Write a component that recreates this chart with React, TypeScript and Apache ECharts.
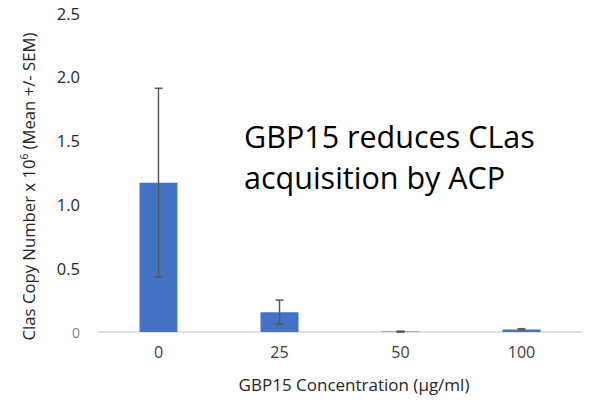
import React, { useEffect, useRef } from "react";
import * as echarts from "echarts";

const categories = ["0", "25", "50", "100"];
const means = [1.17, 0.155, 0.003, 0.02];
const sems = [0.74, 0.095, 0.004, 0.006];
const yTicks = [0, 0.5, 1.0, 1.5, 2.0, 2.5];

const FONT = "'Open Sans', sans-serif";

export default function App() {
  const ref = useRef<HTMLDivElement>(null);
  useEffect(() => {
    if (!ref.current) return;
    const chart = echarts.init(ref.current, null, { renderer: "svg" });
    const errData = categories.map((c, i) => [i, means[i] - sems[i], means[i] + sems[i]]);
    chart.setOption({
      animation: false,
      backgroundColor: "#ffffff",
      grid: { left: 98, right: 7, top: 13, bottom: 69 },
      xAxis: {
        type: "category",
        data: categories,
        axisLine: { show: true, lineStyle: { color: "#d9d9d9", width: 1.5 } },
        axisTick: { show: false },
        axisLabel: { fontFamily: FONT, fontSize: 16, color: "#404040", margin: 12 },
        name: "GBP15 Concentration (\u03bcg/ml)",
        nameLocation: "middle",
        nameGap: 44,
        nameTextStyle: { fontFamily: FONT, fontSize: 17, color: "#262626", padding: [0, 0, 0, 28] },
      },
      yAxis: {
        type: "value",
        min: yTicks[0],
        max: yTicks[yTicks.length - 1],
        interval: 0.5,
        splitLine: { show: false },
        axisLine: { show: false },
        axisTick: { show: false },
        axisLabel: {
          margin: 18,
          formatter: (v: number) => (v === 0 ? "{z|0}" : "{n|" + v.toFixed(1) + "}"),
          rich: {
            z: { fontFamily: FONT, fontSize: 14, color: "#7f7f7f" },
            n: { fontFamily: FONT, fontSize: 16.5, color: "#262626" },
          },
        },
        name: "Clas Copy Number x 10{sup|6} (Mean +/- SEM)",
        nameLocation: "middle",
        nameGap: 61,
        nameTextStyle: {
          fontFamily: FONT,
          fontSize: 16.7,
          color: "#262626",
          padding: [0, 28, 0, 0],
          rich: {
            sup: { fontFamily: FONT, fontSize: 10, color: "#262626", verticalAlign: "top", padding: [0, 0, 8, 0] },
          },
        },
      },
      series: [
        {
          type: "bar",
          data: means,
          barWidth: 38,
          itemStyle: { color: "#4472c4" },
        },
        {
          type: "custom",
          data: errData,
          z: 10,
          renderItem: (params: any, api: any) => {
            const x = api.value(0);
            const lo = api.coord([x, api.value(1)]);
            const hi = api.coord([x, api.value(2)]);
            const cap = 4;
            const style = { stroke: "#595959", lineWidth: 1.5, fill: null };
            return {
              type: "group",
              children: [
                { type: "line", shape: { x1: hi[0], y1: hi[1], x2: lo[0], y2: lo[1] }, style },
                { type: "line", shape: { x1: hi[0] - cap, y1: hi[1], x2: hi[0] + cap, y2: hi[1] }, style },
                { type: "line", shape: { x1: lo[0] - cap, y1: lo[1], x2: lo[0] + cap, y2: lo[1] }, style },
              ],
            };
          },
        },
      ],
      graphic: [
        {
          type: "text",
          left: 244,
          top: 115,
          style: {
            text: "GBP15 reduces CLas\nacquisition by ACP",
            fontFamily: FONT,
            fontSize: 30.5,
            lineHeight: 41,
            fill: "#000000",
          },
        },
      ],
    });
    return () => chart.dispose();
  }, []);
  return <div ref={ref} style={{ width: 589, height: 401, position: "absolute", left: 0, top: 0 }} />;
}
